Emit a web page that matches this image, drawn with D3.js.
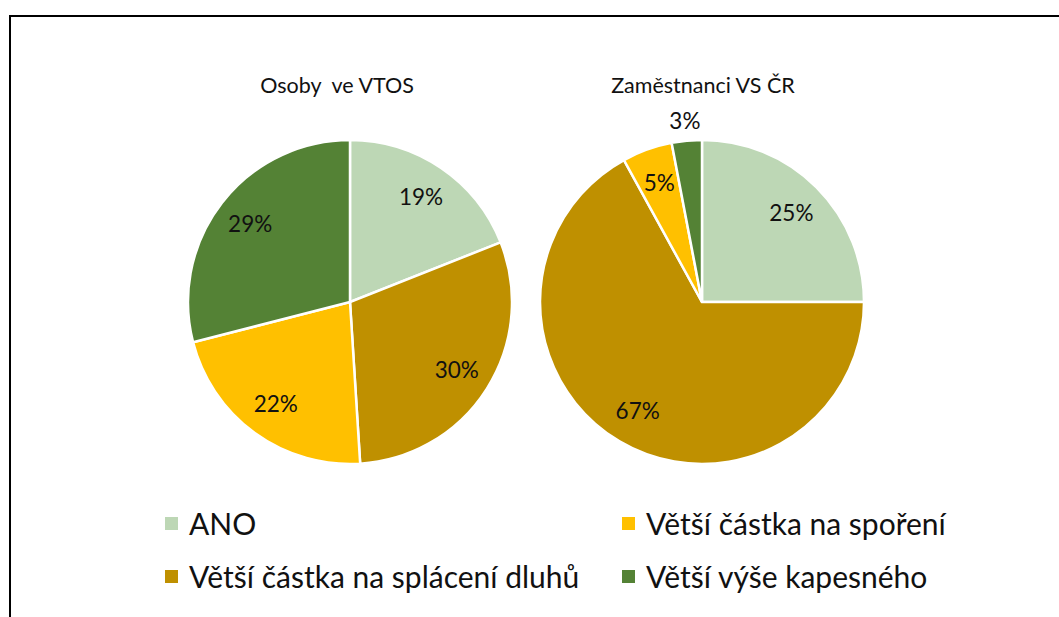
<!DOCTYPE html>
<html>
<head>
<meta charset="utf-8">
<script src="https://cdn.jsdelivr.net/npm/d3@7"></script>
<style>
  body { margin: 0; background: #fff; }
  svg { display: block; font-family: Lato, "Open Sans", sans-serif; }
</style>
</head>
<body>
<div class="chart"></div>
<script>
// categories in pie order (clockwise from 12 o'clock)
var categories = ['ANO', 'Větší částka na splácení dluhů', 'Větší částka na spoření', 'Větší výše kapesného'];
var colors = ['#BDD7B5', '#BF9000', '#FFC000', '#548235'];
var chartTitles = ['Osoby  ve VTOS', 'Zaměstnanci VS ČR'];
var vtosValues = [19, 30, 22, 29];
var vsValues = [25, 67, 5, 3];
// legend reading order (two columns)
var legendOrder = ['ANO', 'Větší částka na spoření', 'Větší částka na splácení dluhů', 'Větší výše kapesného'];

var width = 1059;
var height = 617;
var radius = 162;

var svg = d3.select('.chart')
    .append('svg')
    .attr('width', width)
    .attr('height', height);

// frame, only the top and left edges are visible
svg.append('path')
    .attr('d', 'M10,' + height + 'V16H' + width)
    .attr('fill', 'none')
    .attr('stroke', '#000')
    .attr('stroke-width', 2);

var color = d3.scaleOrdinal().domain(categories).range(colors);

var pie = d3.pie().sort(null).value(d => d.value);
var arc = d3.arc().innerRadius(0).outerRadius(radius);
var labelArc = d3.arc().innerRadius(radius * 0.78).outerRadius(radius * 0.78);
var outerArc = d3.arc().innerRadius(radius + 20).outerRadius(radius + 20);

function drawPie(values, title, cx, cy, titleShift) {
    var data = categories.map((c, i) => ({ name: c, value: values[i] }));
    var g = svg.append('g')
        .attr('transform', 'translate(' + cx + ',' + cy + ')');

    g.append('text')
        .attr('x', titleShift)
        .attr('y', -radius - 47)
        .attr('text-anchor', 'middle')
        .attr('font-size', 21.5)
        .attr('fill', '#111')
        .style('white-space', 'pre')
        .text(title);

    var slices = pie(data);

    g.selectAll('path.slice')
        .data(slices)
        .enter()
        .append('path')
        .attr('class', 'slice')
        .attr('d', arc)
        .attr('fill', d => color(d.data.name))
        .attr('stroke', '#fff')
        .attr('stroke-width', 2.5);

    g.selectAll('text.lbl')
        .data(slices)
        .enter()
        .append('text')
        .attr('class', 'lbl')
        .attr('transform', d => {
            // tiny slices get their label outside the pie
            var p = d.data.value < 4 ? outerArc.centroid(d) : labelArc.centroid(d);
            return 'translate(' + p + ')';
        })
        .attr('dy', '0.35em')
        .attr('text-anchor', 'middle')
        .attr('font-size', 22.5)
        .attr('fill', '#111')
        .text(d => d.data.value + '%');
}

drawPie(vtosValues, chartTitles[0], 350, 302, -13);
drawPie(vsValues, chartTitles[1], 702, 302, 1);

// legend
var legendX = d3.scalePoint().domain([0, 1]).range([165, 622]);
var legendY = d3.scalePoint().domain([0, 1]).range([524, 577]);

var legend = svg.selectAll('g.legend')
    .data(legendOrder)
    .enter()
    .append('g')
    .attr('class', 'legend')
    .attr('transform', (d, i) => 'translate(' + legendX(i % 2) + ',' + legendY(Math.floor(i / 2)) + ')');

legend.append('rect')
    .attr('x', 0)
    .attr('y', -7)
    .attr('width', 13)
    .attr('height', 13)
    .attr('fill', d => color(d));

legend.append('text')
    .attr('x', 24)
    .attr('dy', '0.35em')
    .attr('font-size', 30)
    .attr('fill', '#111')
    .text(d => d);
</script>
</body>
</html>
